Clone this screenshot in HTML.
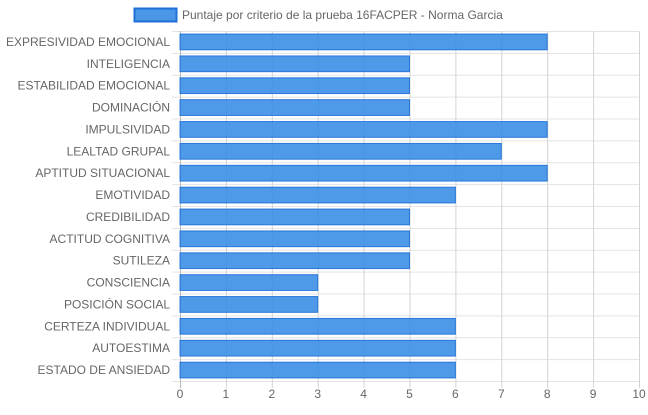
<!DOCTYPE html>
<html><head><meta charset="utf-8"><style>
body{margin:0;background:#fff;font-family:"Liberation Sans",Arial,sans-serif}
svg text{font-family:"Liberation Sans",Arial,sans-serif}
</style></head><body>
<svg id="c" width="648" height="410">
<g>
<rect x="134.5" y="8.5" width="42" height="13" fill="rgba(54,140,230,0.9)" stroke="#1e6fd6" stroke-width="2"/>
<text x="182" y="19" font-size="12" fill="#666">Puntaje por criterio de la prueba 16FACPER - Norma Garcia</text>
</g>
<g id="grid"></g><g id="bars"></g><g id="labels"></g>
</svg>
<script>
const categories=["EXPRESIVIDAD EMOCIONAL","INTELIGENCIA","ESTABILIDAD EMOCIONAL","DOMINACIÓN","IMPULSIVIDAD","LEALTAD GRUPAL","APTITUD SITUACIONAL","EMOTIVIDAD","CREDIBILIDAD","ACTITUD COGNITIVA","SUTILEZA","CONSCIENCIA","POSICIÓN SOCIAL","CERTEZA INDIVIDUAL","AUTOESTIMA","ESTADO DE ANSIEDAD"];
const values=[8,5,5,5,8,7,8,6,5,5,5,3,3,6,6,6];
const ticks=[0,1,2,3,4,5,6,7,8,9,10];
const NS="http://www.w3.org/2000/svg";
const L=180,R=639,T=31,B=381,xmax=10;
const x=v=>L+(R-L)*v/xmax;
const band=(B-T)/categories.length;
const y=i=>T+band*i;
function mk(t,a,p){const e=document.createElementNS(NS,t);for(const k in a)e.setAttribute(k,a[k]);p.appendChild(e);return e;}
const g=document.getElementById('grid'),bg=document.getElementById('bars'),lg=document.getElementById('labels');
for(let i=0;i<=categories.length;i++){
 const ln=mk('line',{x1:L-8,x2:R,y1:y(i)+0.5,y2:y(i)+0.5,stroke:'#e3e3e3'},g);
 
 
}
ticks.forEach(t=>{
 const ln=mk('line',{x1:x(t)+0.5,x2:x(t)+0.5,y1:T,y2:B+7,stroke:t===0?'#bbb':'#d4d4d4'},g);
 
 
 const tx=mk('text',{x:x(t),y:B+17,'font-size':12,fill:'#666','text-anchor':'middle'},lg);
 tx.textContent=t;
 
 
});
categories.forEach((c,i)=>{
 const h=band*0.72,yy=y(i)+(band-h)/2;
 const r=mk('rect',{x:L,y:yy,width:x(values[i])-L,height:h,fill:'rgba(54,140,230,0.88)',stroke:'rgba(30,111,214,0.9)','stroke-width':1},bg);
 
 
 const tx=mk('text',{x:L-10,y:y(i)+band/2+4,'font-size':12,fill:'#666','text-anchor':'end'},lg);
 tx.textContent=c;
 
 
});
</script>
</body></html>
